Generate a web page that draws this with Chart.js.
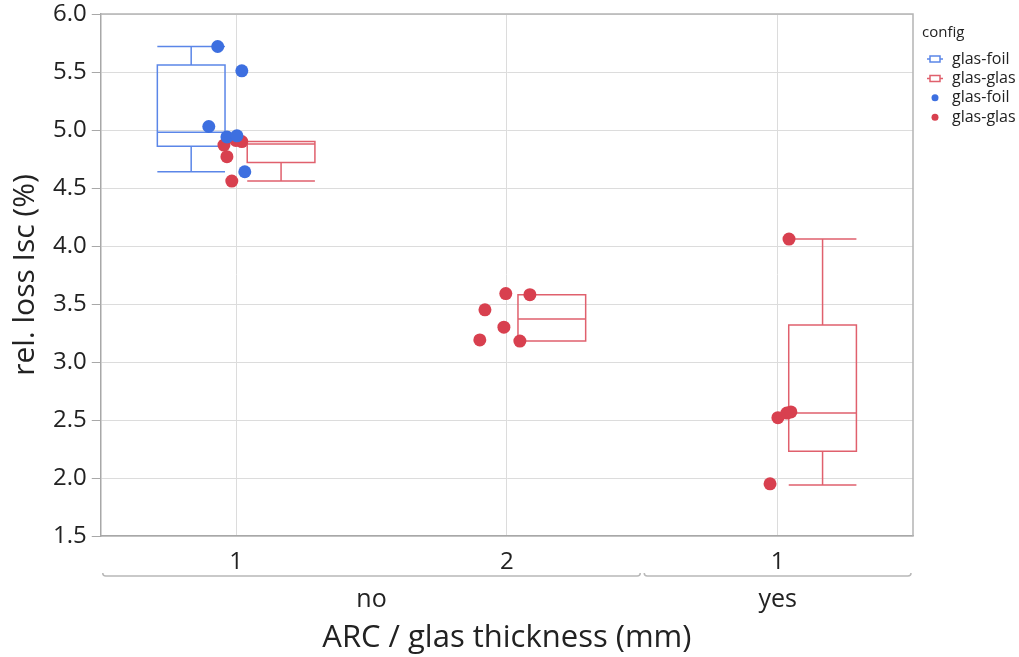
<!DOCTYPE html>
<html>
<head>
<meta charset="utf-8">
<script src="https://cdn.jsdelivr.net/npm/chart.js@4.4.1/dist/chart.umd.min.js"></script>
<style>
  html, body { margin: 0; padding: 0; background: #fff; }
  #wrap { width: 1019px; height: 657px; }
</style>
</head>
<body>
<div id="wrap"><canvas id="chart"></canvas></div>
<script>
// x categories (glas thickness) and their ARC groups
const thicknessLabels = ["1", "2", "1"];
const arcGroups = ["no", "yes"];
const arcGroupFirst = [1, 3];
const arcGroupLast = [2, 3];

// box stats: glas-foil
const foilBoxCat = [1];
const foilMin = [4.64];
const foilQ1 = [4.86];
const foilMed = [4.98];
const foilQ3 = [5.56];
const foilMax = [5.72];

// box stats: glas-glas
const glasBoxCat = [1, 2, 3];
const glasMin = [4.56, 3.18, 1.94];
const glasQ1 = [4.72, 3.18, 2.23];
const glasMed = [4.88, 3.37, 2.56];
const glasQ3 = [4.90, 3.58, 3.32];
const glasMax = [4.90, 3.58, 4.06];

// single measurements (category + jitter, value)
const foilCat = [1, 1, 1, 1, 1, 1];
const foilJitter = [-0.068, 0.021, -0.101, -0.034, 0.003, 0.032];
const foilVal = [5.72, 5.51, 5.03, 4.94, 4.95, 4.64];

const glasCat = [1, 1, 1, 1, 1, 2, 2, 2, 2, 2, 2, 3, 3, 3, 3, 3];
const glasJitter = [-0.045, -0.034, -0.016, -0.001, 0.021,
                    -0.004, 0.085, -0.081, -0.011, -0.100, 0.048,
                    0.042, 0.001, 0.034, 0.049, -0.028];
const glasVal = [4.87, 4.77, 4.56, 4.91, 4.90,
                 3.59, 3.58, 3.45, 3.30, 3.19, 3.18,
                 4.06, 2.52, 2.56, 2.57, 1.95];

// legend
const legendTitle = "config";
const legendLabels = ["glas-foil", "glas-glas", "glas-foil", "glas-glas"];

const FONT = "'Open Sans', 'Noto Sans', sans-serif";
const BLUE = "#3d6fe0";
const RED = "#d8404f";
const BLUE_BOX = "#5b86e8";
const RED_BOX = "#e0606d";
const BOX_OFFSET = 0.166;
const BOX_HALF = 0.125;

const boxSets = [
    { cat: foilBoxCat, min: foilMin, q1: foilQ1, med: foilMed, q3: foilQ3, max: foilMax, color: BLUE_BOX, off: -BOX_OFFSET },
    { cat: glasBoxCat, min: glasMin, q1: glasQ1, med: glasMed, q3: glasQ3, max: glasMax, color: RED_BOX, off: BOX_OFFSET }
];
const legendKinds = ["box", "box", "dot", "dot"];
const legendColors = [BLUE_BOX, RED_BOX, BLUE, RED];

// box plots drawn under the points, through the chart scales
const boxPlugin = {
    id: "boxes",
    beforeDatasetsDraw(chart) {
        const { ctx, scales: { x, y } } = chart;
        ctx.save();
        ctx.lineWidth = 1.5;
        boxSets.forEach(set => {
            ctx.strokeStyle = set.color;
            set.cat.forEach((c, i) => {
                const mid = c + set.off;
                const l = x.getPixelForValue(mid - BOX_HALF);
                const r = x.getPixelForValue(mid + BOX_HALF);
                const m = x.getPixelForValue(mid);
                const yMin = y.getPixelForValue(set.min[i]);
                const yQ1 = y.getPixelForValue(set.q1[i]);
                const yMed = y.getPixelForValue(set.med[i]);
                const yQ3 = y.getPixelForValue(set.q3[i]);
                const yMax = y.getPixelForValue(set.max[i]);
                ctx.beginPath();
                ctx.rect(l, yQ3, r - l, yQ1 - yQ3);
                ctx.moveTo(l, yMed); ctx.lineTo(r, yMed);
                ctx.moveTo(m, yQ3); ctx.lineTo(m, yMax);
                ctx.moveTo(m, yQ1); ctx.lineTo(m, yMin);
                ctx.moveTo(l, yMax); ctx.lineTo(r, yMax);
                ctx.moveTo(l, yMin); ctx.lineTo(r, yMin);
                ctx.stroke();
            });
        });
        ctx.restore();
    },
    afterDraw(chart) {
        const { ctx, chartArea: a, scales: { x } } = chart;
        ctx.save();
        // frame top/right
        ctx.strokeStyle = "#b4b4b4";
        ctx.lineWidth = 1.5;
        ctx.beginPath();
        ctx.moveTo(a.left, a.top); ctx.lineTo(a.right, a.top); ctx.lineTo(a.right, a.bottom);
        ctx.stroke();

        // ARC group brackets and labels
        const yb = a.bottom + 40;
        ctx.strokeStyle = "#b8b8b8";
        ctx.fillStyle = "#222";
        ctx.font = "25px " + FONT;
        ctx.textAlign = "center";
        ctx.textBaseline = "middle";
        arcGroups.forEach((g, i) => {
            const x1 = x.getPixelForValue(arcGroupFirst[i] - 0.5) + 2;
            const x2 = x.getPixelForValue(arcGroupLast[i] + 0.5) - 2;
            ctx.beginPath();
            ctx.moveTo(x1, yb - 3);
            ctx.quadraticCurveTo(x1, yb, x1 + 3, yb);
            ctx.lineTo(x2 - 3, yb);
            ctx.quadraticCurveTo(x2, yb, x2, yb - 3);
            ctx.stroke();
            ctx.fillText(g, (x1 + x2) / 2, yb + 24);
        });

        // legend on the right
        const lx = a.right + 9;
        ctx.textAlign = "left";
        ctx.font = "15px " + FONT;
        ctx.fillText(legendTitle, lx, 33);
        ctx.font = "16px " + FONT;
        legendLabels.forEach((t, i) => {
            const cy = 59 + i * 19.4;
            const cx = lx + 13;
            ctx.fillStyle = "#222";
            ctx.fillText(t, lx + 30, cy);
            if (legendKinds[i] === "box") {
                ctx.strokeStyle = legendColors[i];
                ctx.lineWidth = 1.5;
                ctx.beginPath();
                ctx.rect(cx - 5, cy - 3, 10, 6);
                ctx.moveTo(cx - 8, cy); ctx.lineTo(cx - 5, cy);
                ctx.moveTo(cx + 5, cy); ctx.lineTo(cx + 8, cy);
                ctx.stroke();
            } else {
                ctx.fillStyle = legendColors[i];
                ctx.beginPath();
                ctx.arc(cx, cy, 3.5, 0, Math.PI * 2);
                ctx.fill();
            }
        });
        ctx.restore();
    }
};

const ctx = document.getElementById("chart").getContext("2d");
new Chart(ctx, {
    type: "scatter",
    data: {
        datasets: [
            {
                label: "glas-foil",
                data: foilCat.map((c, i) => ({ x: c + foilJitter[i], y: foilVal[i] })),
                backgroundColor: BLUE,
                pointRadius: 6.5,
                pointBorderWidth: 0
            },
            {
                label: "glas-glas",
                data: glasCat.map((c, i) => ({ x: c + glasJitter[i], y: glasVal[i] })),
                backgroundColor: RED,
                pointRadius: 6.5,
                pointBorderWidth: 0
            }
        ]
    },
    options: {
        responsive: true,
        maintainAspectRatio: false,
        animation: false,
        events: [],
        layout: { padding: { left: 7, right: 106, top: 0, bottom: 0 } },
        scales: {
            x: {
                type: "linear",
                min: 0.5,
                max: 3.5,
                afterBuildTicks: s => { s.ticks = thicknessLabels.map((t, i) => ({ value: i + 1 })); },
                ticks: {
                    padding: 12,
                    color: "#222",
                    font: { family: FONT, size: 24 },
                    callback: (v) => thicknessLabels[Math.round(v) - 1]
                },
                grid: { color: "#dcdcdc", drawTicks: false },
                border: { color: "#a8a8a8", width: 1.5 },
                title: {
                    display: true,
                    text: "ARC / glas thickness (mm)",
                    color: "#222",
                    font: { family: FONT, size: 31 },
                    padding: { top: 31, bottom: 0 }
                }
            },
            y: {
                min: 1.5,
                max: 6.0,
                ticks: {
                    stepSize: 0.5,
                    padding: 5,
                    color: "#222",
                    font: { family: FONT, size: 24, lineHeight: 0.75 },
                    callback: v => v.toFixed(1)
                },
                grid: { color: "#dcdcdc", tickLength: 9, tickColor: "#a8a8a8" },
                border: { color: "#a8a8a8", width: 1.5 },
                title: {
                    display: true,
                    text: "rel. loss Isc (%)",
                    color: "#222",
                    font: { family: FONT, size: 30 },
                    padding: { top: 0, bottom: 5 }
                }
            }
        },
        plugins: {
            tooltip: { enabled: false },
            legend: { display: false }
        }
    },
    plugins: [boxPlugin]
});
</script>
</body>
</html>
